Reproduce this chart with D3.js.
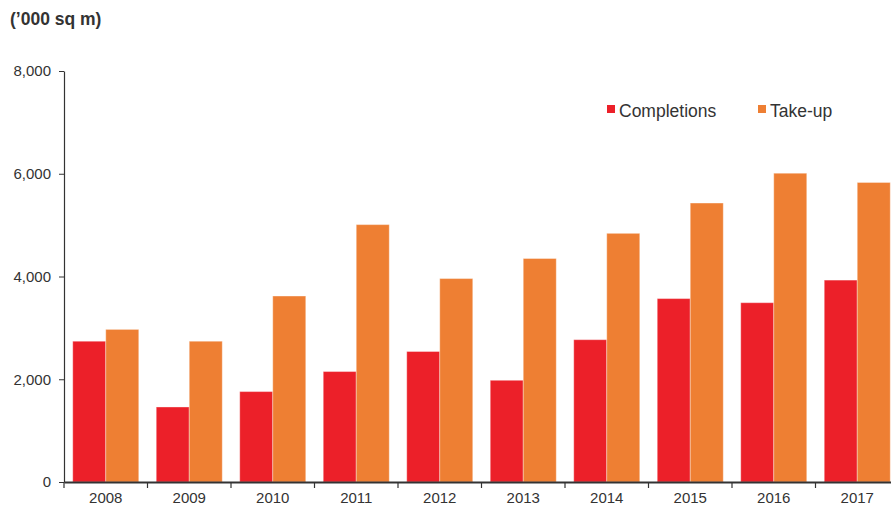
<!DOCTYPE html>
<html>
<head>
<meta charset="utf-8">
<script src="https://cdn.jsdelivr.net/npm/d3@7"></script>
<style>
  body { margin: 0; background: #fff; }
  text { font-family: "Liberation Sans", Arial, sans-serif; fill: #333; }
</style>
</head>
<body>
<svg width="891" height="509"></svg>
<script>
// data
const years = ["2008","2009","2010","2011","2012","2013","2014","2015","2016","2017"];
const completions = [2740, 1460, 1760, 2150, 2540, 1980, 2770, 3570, 3490, 3930];
const takeUp = [2970, 2740, 3620, 5010, 3960, 4350, 4840, 5430, 6010, 5830];
const yTicks = [0, 2000, 4000, 6000, 8000];
const seriesNames = ["Completions", "Take-up"];
const colors = ["#ec2029", "#ee7f33"];

const svg = d3.select("svg");
const plotLeft = 64, plotRight = 899, plotTop = 71, plotBottom = 482;

const x = d3.scaleBand().domain(years).range([plotLeft, plotRight]).paddingInner(0).paddingOuter(0);
const x1 = d3.scaleBand().domain(seriesNames).range([0, x.bandwidth()]).paddingOuter(0.265).paddingInner(0);
const y = d3.scaleLinear().domain([0, 8000]).range([plotBottom, plotTop]);

// bars
const groups = svg.selectAll("g.year")
    .data(years)
    .enter()
    .append("g")
    .attr("class", "year")
    .attr("transform", d => "translate(" + x(d) + ",0)");

groups.selectAll("rect")
    .data((d, i) => [completions[i], takeUp[i]])
    .enter()
    .append("rect")
    .attr("x", (d, j) => x1(seriesNames[j]))
    .attr("width", x1.bandwidth())
    .attr("y", d => y(d))
    .attr("height", d => plotBottom - y(d))
    .attr("fill", (d, j) => colors[j])
    .attr("stroke", "rgba(255,255,255,0.35)")
    .attr("stroke-width", 1);

// y axis
const yAxis = svg.append("g")
    .attr("transform", "translate(" + plotLeft + ",0)")
    .call(d3.axisLeft(y).tickValues(yTicks).tickSize(5).tickSizeOuter(0).tickFormat(d3.format(",")));
yAxis.attr("font-size", null).attr("font-family", null);
yAxis.select(".domain").attr("stroke", "#333").attr("stroke-width", 1.2);
yAxis.selectAll(".tick line").attr("stroke", "#333");
yAxis.selectAll(".tick text").attr("x", -13).style("font-size", "15px").attr("fill", "#333");

// x axis
const xAxis = svg.append("g")
    .attr("transform", "translate(0," + plotBottom + ")")
    .call(d3.axisBottom(x).tickSize(0).tickSizeOuter(0));
xAxis.attr("font-size", null).attr("font-family", null);
xAxis.select(".domain").attr("stroke", "#333").attr("stroke-width", 2);
xAxis.selectAll(".tick text").attr("y", 10).style("font-size", "15px").attr("fill", "#333");

// x ticks at band boundaries
svg.append("g").selectAll("line")
    .data(years)
    .enter()
    .append("line")
    .attr("x1", d => x(d)).attr("x2", d => x(d))
    .attr("y1", plotBottom).attr("y2", plotBottom + 6)
    .attr("stroke", "#333").attr("stroke-width", 1.2);

// title
svg.append("text")
    .attr("x", 10).attr("y", 25)
    .style("font-size", "17.5px")
    .style("font-weight", "bold")
    .text("(\u2019000 sq m)");

// legend
const legendX = [607, 758];
const legend = svg.selectAll("g.legend")
    .data(seriesNames)
    .enter()
    .append("g")
    .attr("class", "legend")
    .attr("transform", (d, i) => "translate(" + legendX[i] + ",105)");
legend.append("rect").attr("width", 8).attr("height", 8).attr("fill", (d, i) => colors[i]);
legend.append("text").attr("x", 12).attr("y", 12).style("font-size", "17.5px").text(d => d);
</script>
</body>
</html>
